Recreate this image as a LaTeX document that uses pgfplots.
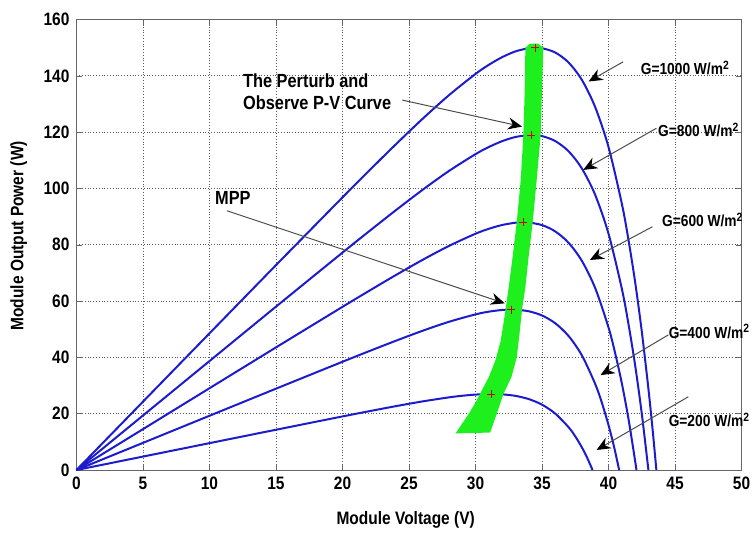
\documentclass[border=0pt]{standalone}
\usepackage{fontspec}
\setmainfont[FakeStretch=0.86]{Liberation Sans}
\usepackage{pgfplots}
\pgfplotsset{compat=1.18}
\usetikzlibrary{arrows.meta}

\definecolor{pvblue}{RGB}{28,28,205}
\definecolor{pogreen}{RGB}{30,240,30}

\begin{document}
\begin{tikzpicture}
\begin{axis}[
    name=ax,
    scale only axis, width=332.5pt, height=225.2pt,
    xmin=0, xmax=50, ymin=0, ymax=160,
    xtick={0,5,...,50}, ytick={0,20,...,160},
    grid=major, major grid style={densely dotted, gray!70!black},
    axis line style={gray!80!black},
    tick style={gray!80!black}, major tick length=3pt,
    ticklabel style={font=\fontsize{9}{10}\selectfont\bfseries},
    /pgf/number format/assume math mode=true,
    xlabel={Module Voltage (V)}, ylabel={Module Output Power (W)},
    label style={font=\fontsize{9}{10}\selectfont\bfseries},
    xlabel style={at={(axis description cs:0.495,-0.111)}, anchor=center},
    ylabel style={at={(axis description cs:-0.087,0.52)}, anchor=center},
    clip=false,
  ]
  % G = 1000 W/m2
  \addplot[pvblue, line width=1pt, smooth] coordinates {
    (0,0) (5,24.28) (10,48.55) (15,72.78) (20,96.84) (22,106.33) (24,115.64) (26,124.66)
    (28,133.13) (30,140.69) (31,143.93) (32,146.65) (33,148.70) (34,149.85) (34.5,150.0)
    (35,149.85) (36,148.30) (37,144.74) (38,138.56) (39,128.89) (40,114.74) (41,94.65)
    (41.5,81.8) (42,66.83) (42.5,49.3) (43,28.88) (43.3,15.1) (43.6,0)
  };
  % G = 800 W/m2
  \addplot[pvblue, line width=1pt, smooth] coordinates {
    (0,0) (5,19.36) (10,38.70) (15,58.03) (20,77.23) (22,84.80) (24,92.24) (26,99.45)
    (28,106.21) (30,112.20) (31,114.73) (32,116.81) (33,118.29) (34,118.98) (34.2,119.0)
    (35,118.62) (36,116.84) (37,113.21) (38,107.09) (39,97.71) (40,83.95) (41,64.44)
    (41.5,51.9) (42,37.28) (42.5,20.1) (43,0)
  };
  % G = 600 W/m2
  \addplot[pvblue, line width=1pt, smooth] coordinates {
    (0,0) (5,14.52) (10,29.05) (15,43.55) (20,57.96) (22,63.64) (24,69.22) (26,74.59)
    (28,79.59) (30,83.93) (31,85.68) (32,87.03) (33,87.84) (33.6,88.0) (34,87.91)
    (35,87.00) (36,84.74) (37,80.71) (38,74.27) (39,64.61) (40,50.63) (40.5,41.5)
    (41,30.85) (41.5,18.2) (42,3.28) (42.1,0)
  };
  % G = 400 W/m2
  \addplot[pvblue, line width=1pt, smooth] coordinates {
    (0,0) (5,9.64) (10,19.27) (15,28.89) (20,38.45) (22,42.21) (24,45.89) (26,49.42)
    (28,52.64) (30,55.28) (31,56.25) (32,56.85) (32.7,57.0) (33,56.96) (34,56.39)
    (35,54.89) (36,52.11) (37,47.59) (38,40.71) (39,30.56) (39.5,23.9) (40,15.96)
    (40.4,8.6) (40.8,0)
  };
  % G = 200 W/m2
  \addplot[pvblue, line width=1pt, smooth] coordinates {
    (0,0) (5,4.77) (10,9.54) (15,14.30) (20,19.03) (22,20.88) (24,22.67) (26,24.35)
    (28,25.80) (29,26.37) (30,26.79) (31,26.99) (31.2,27.0) (32,26.88) (33,26.34)
    (34,25.20) (35,23.21) (36,20.02) (37,15.19) (37.5,11.95) (38,8.02) (38.4,4.3) (38.8,0)
  };

  % P&O operating band (drawn over the curves)
  \addplot[draw=none, fill=pogreen] coordinates {
    (28.5,13) (29.0,16.5) (29.5,20) (30.0,24) (30.5,28.5) (31.0,33) (31.5,39) (31.9,46)
    (32.2,55) (32.5,65) (32.8,76) (33.1,88) (33.4,103) (33.6,119) (33.7,135) (33.75,150)
    (34.1,151.5) (34.7,151.5)
    (35.1,150) (35.0,135) (34.9,119) (34.6,103) (34.3,88) (34.0,76) (33.75,65) (33.5,57)
    (33.3,48) (33.1,40) (32.7,33) (32.1,27) (31.6,20) (31.1,13.3)
  } -- cycle;

  % maximum power points
  \addplot[red!80!black, only marks, mark=+, mark size=2pt] coordinates {
    (34.5,150) (34.2,119) (33.6,88) (32.7,57) (31.2,27)
  };

  % annotations
  \node[anchor=west, inner sep=0pt, align=left, font=\fontsize{9.5}{11}\selectfont\bfseries]
    at (axis cs:12.5,134.3) {The Perturb and\\Observe P-V Curve};
  \node[anchor=west, inner sep=0pt, font=\fontsize{9.5}{11}\selectfont\bfseries]
    at (axis cs:10.4,96.6) {MPP};
  \tikzset{ann/.style={gray!60!black, line width=0.5pt,
      -{Stealth[length=7pt, width=6pt, black]}}}
  \draw[ann] (axis cs:24.5,131.4) -- (axis cs:33.5,122);
  \draw[ann] (axis cs:11.3,92.1) -- (axis cs:32.2,59.2);
  \draw[ann] (axis cs:41.1,145) -- (axis cs:38.5,138);
  \draw[ann] (axis cs:43.6,121.4) -- (axis cs:38.1,106.6);
  \draw[ann] (axis cs:43.3,86.4) -- (axis cs:38.6,74.6);
  \draw[ann] (axis cs:44.5,48) -- (axis cs:39.4,33.7);
  \draw[ann] (axis cs:46.0,26) -- (axis cs:39.1,7.1);
  \tikzset{glab/.style={anchor=west, inner sep=0pt, font=\fontsize{8}{9}\selectfont\bfseries}}
  \node[glab] at (axis cs:42.4,142.8) {G=1000 W/m\textsuperscript{2}};
  \node[glab] at (axis cs:43.7,120.8) {G=800 W/m\textsuperscript{2}};
  \node[glab] at (axis cs:44.0,88.8) {G=600 W/m\textsuperscript{2}};
  \node[glab] at (axis cs:44.5,49.1) {G=400 W/m\textsuperscript{2}};
  \node[glab] at (axis cs:44.5,17.8) {G=200 W/m\textsuperscript{2}};
\end{axis}
\pgfresetboundingbox
\path[use as bounding box]
  ([xshift=-38.25pt, yshift=-31.5pt]ax.south west)
  rectangle ([xshift=5.25pt, yshift=9.8pt]ax.north east);
\end{tikzpicture}
\end{document}
